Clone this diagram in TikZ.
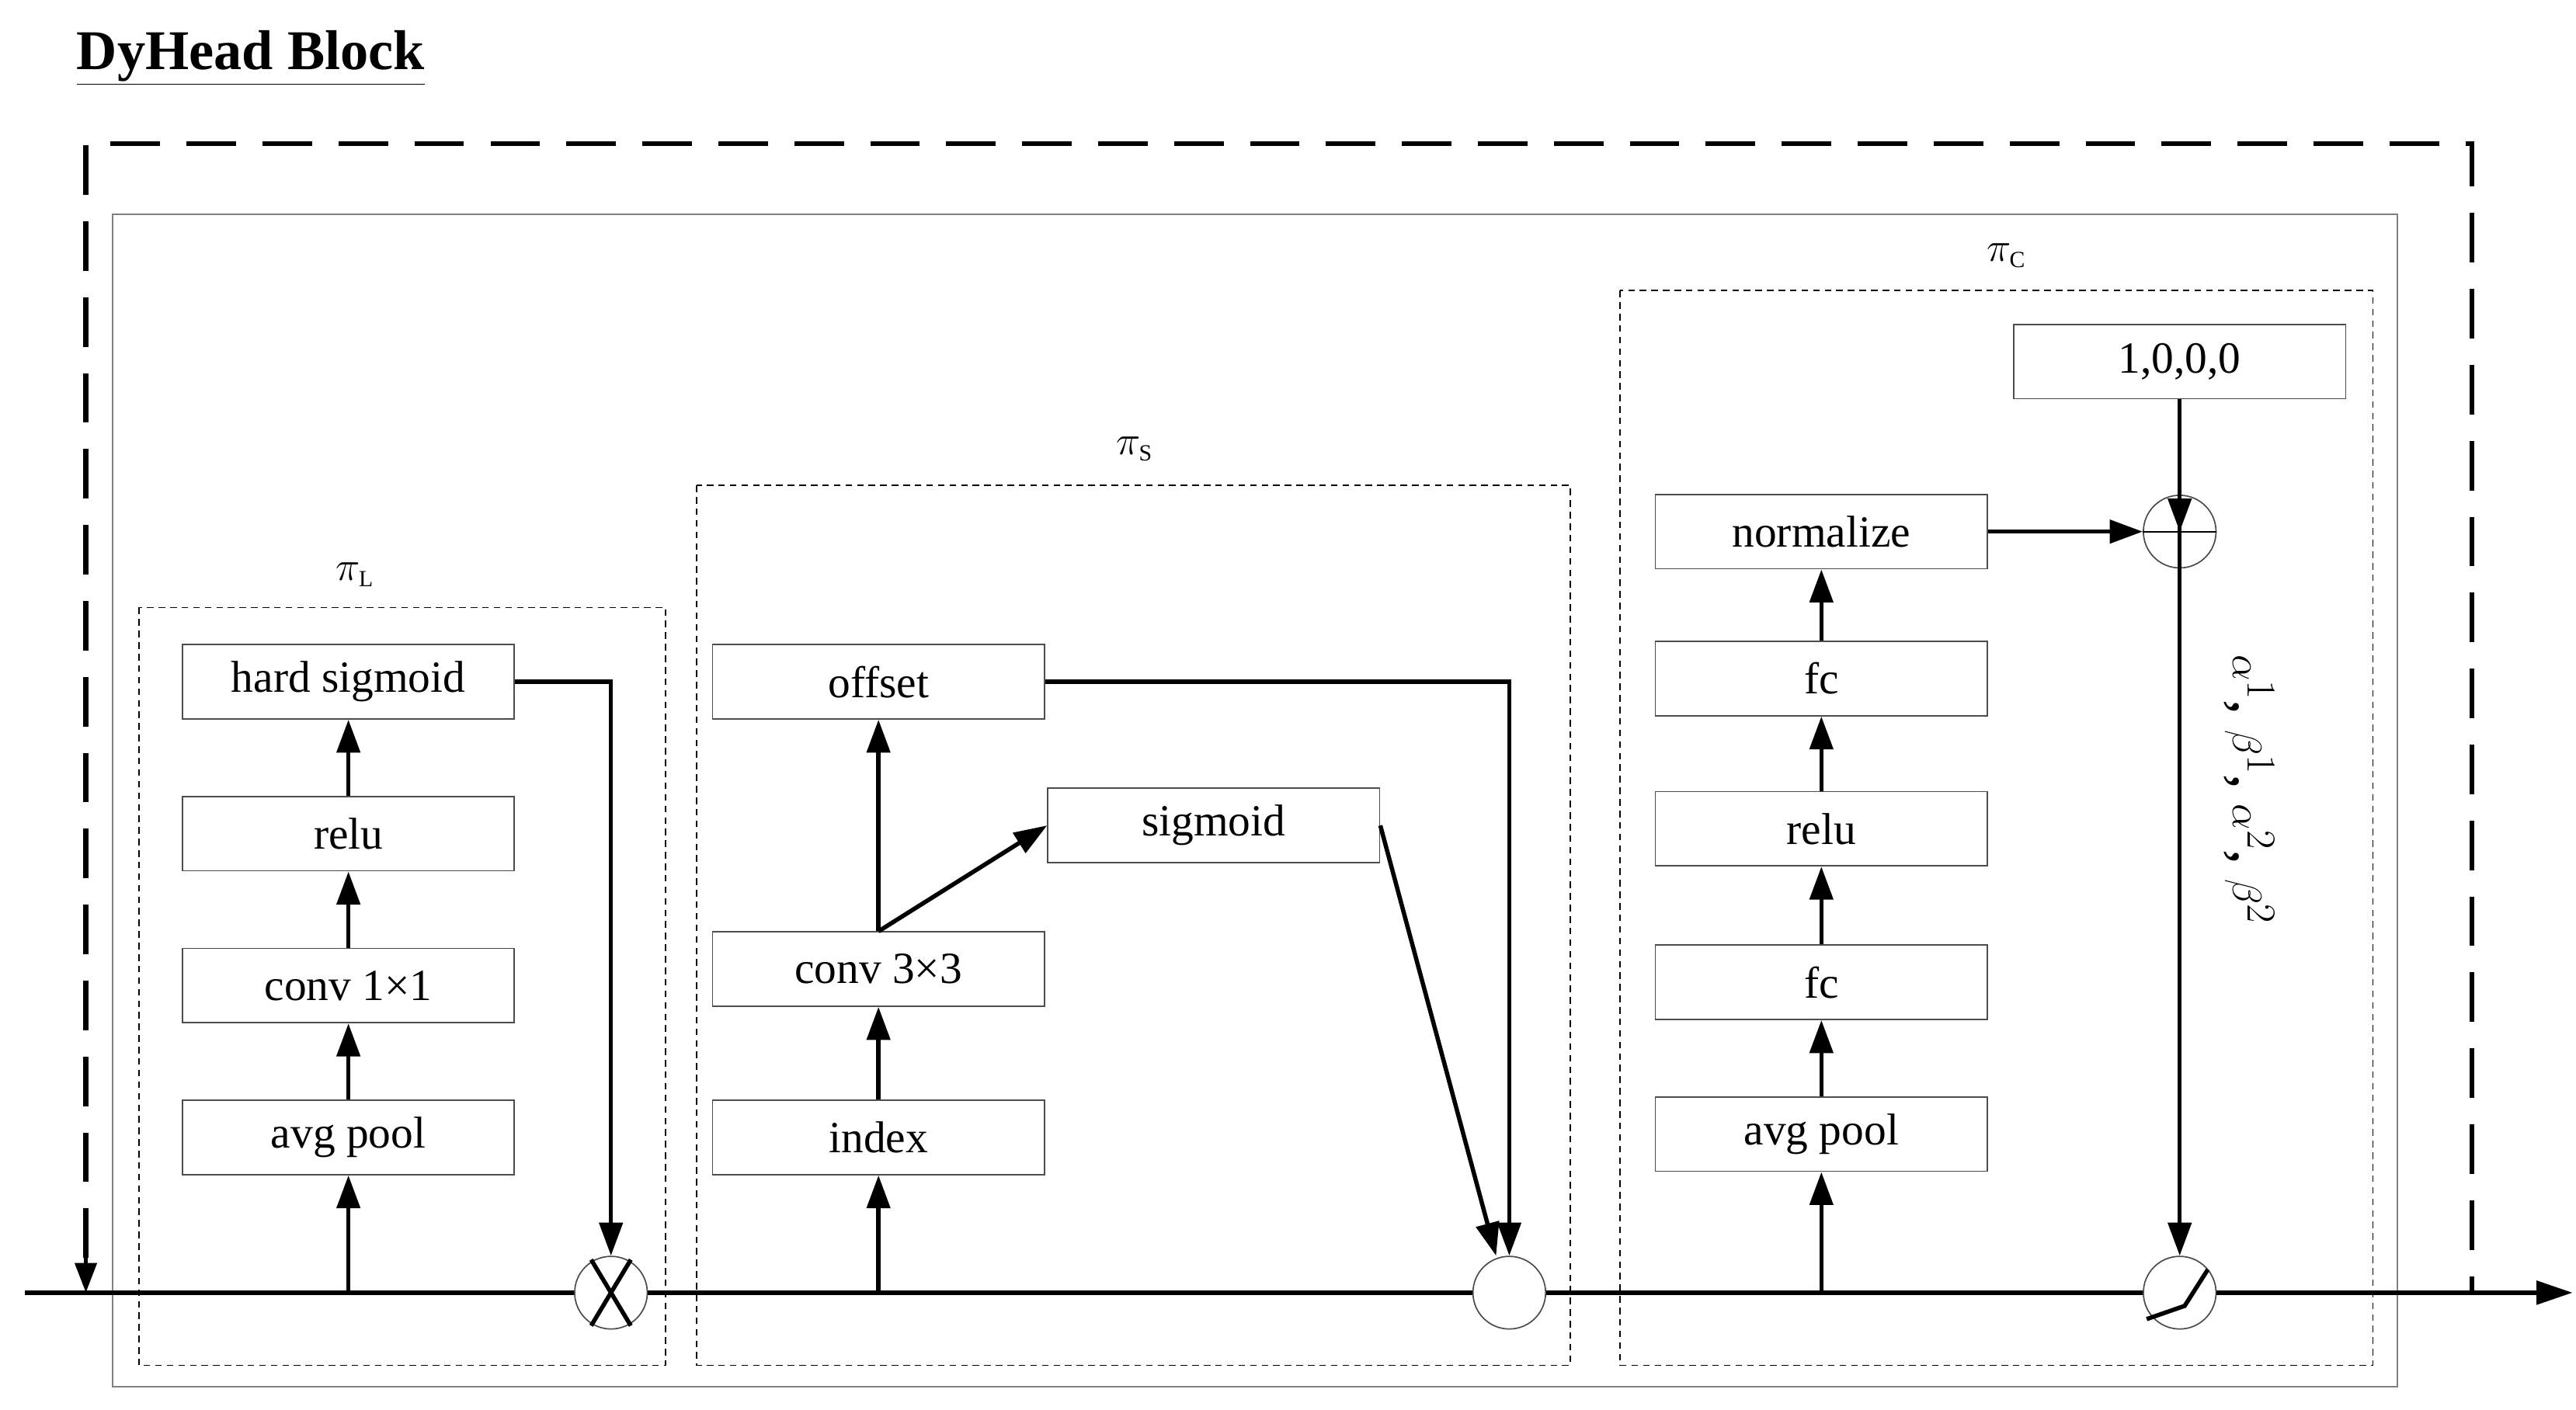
\documentclass[tikz,border=0pt]{standalone}
\usepackage{fontspec}
\setmainfont{Liberation Serif}
\usetikzlibrary{arrows.meta,calc}
\begin{document}
\begin{tikzpicture}[x=1pt,y=-1pt,
  box/.style={draw=black!70,line width=0.8pt,minimum width=201pt,minimum height=45pt,inner sep=0pt,font=\fontsize{27}{27}\selectfont},
  arr/.style={line width=2.6pt,-{Triangle[length=20pt,width=14pt]}},
  grp/.style={draw,dashed,line width=0.9pt,dash pattern=on 4pt off 3pt},
  op/.style={circle,draw=black!70,line width=0.8pt,minimum size=44pt,inner sep=0pt},
  lab/.style={font=\fontsize{28}{28}\selectfont}]
\useasboundingbox (0,0) rectangle (1560,854);
\node[anchor=west,font=\fontsize{34}{34}\selectfont\bfseries] (title) at (43,35) {\underline{DyHead Block}};
\draw[line width=3pt,dash pattern=on 30pt off 16pt] (52,762) -- (52,87) -- (1497,87) -- (1497,783);
\coordinate (dtip) at (52,783);
\draw[line width=2.6pt,-{Triangle[length=18pt,width=13pt]}] (52,762) -- (dtip);
\draw[black!50,line width=1pt] (68,130) rectangle (1452,840);
% groups
\draw[grp] (84,368) rectangle (403,827);
\node[lab] (pl) at (215,348) {$\pi_{\mathrm{\scriptscriptstyle L}}$};
\draw[grp] (422,294) rectangle (951,827);
\node[lab] (ps) at (687,272) {$\pi_{\mathrm{\scriptscriptstyle S}}$};
\draw[grp] (981,176) rectangle (1437,827);
\node[lab] (pc) at (1215,155) {$\pi_{\mathrm{\scriptscriptstyle C}}$};
% main line
\coordinate (start) at (15,783);
\coordinate (end) at (1558,783);
\node[op] (mul) at (370,783) {};
\node[op] (add2) at (914,783) {};
\node[op] (act) at (1320,783) {};
\node[op] (plus) at (1320,322) {};
\draw[line width=3pt] (start) -- (mul.west);
\draw[line width=3pt] (mul.east) -- (add2.west);
\draw[line width=3pt] (add2.east) -- (act.west);
\draw[line width=3pt,-{Triangle[length=22pt,width=14pt]}] (act.east) -- (end);
\draw[line width=2.6pt] ($(mul.center)+(-12,-20)$) -- ($(mul.center)+(12,20)$);
\draw[line width=2.6pt] ($(mul.center)+(12,-20)$) -- ($(mul.center)+(-12,20)$);
\draw[line width=2.6pt] ($(act.center)+(-20,16)$) -- ($(act.center)+(3,8)$) -- ($(act.center)+(17,-14)$);
\draw[line width=1pt] (plus.west) -- (plus.east);
% L
\node[box] (hs) at (211,413) {hard sigmoid};
\node[box] (rl) at (211,505) {relu};
\node[box] (c1) at (211,597) {conv 1×1};
\node[box] (ap1) at (211,689) {avg pool};
\coordinate (l0) at (211,783);
\draw[arr] (l0) -- (ap1);
\draw[arr] (ap1) -- (c1);
\draw[arr] (c1) -- (rl);
\draw[arr] (rl) -- (hs);
\draw[arr] (hs.east) -| (mul.north);
% S
\node[box] (off) at (532,413) {offset};
\node[box] (sg) at (735,500) {sigmoid};
\node[box] (c3) at (532,587) {conv 3×3};
\node[box] (idx) at (532,689) {index};
\coordinate (s0) at (532,783);
\draw[arr] (s0) -- (idx);
\draw[arr] (idx) -- (c3);
\draw[arr] (c3) -- (off);
\draw[arr] (c3.north) -- (sg.west);
\draw[arr] (off.east) -| (add2.north);
\draw[arr] (sg.east) -- ($(add2.north)+(-8,0)$);
% C
\node[box] (nm) at (1103,322) {normalize};
\node[box] (fc2) at (1103,411) {fc};
\node[box] (rl2) at (1103,502) {relu};
\node[box] (fc1) at (1103,595) {fc};
\node[box] (ap2) at (1103,687) {avg pool};
\node[box] (one) at (1320,219) {1,0,0,0};
\coordinate (c0) at (1103,783);
\draw[arr] (c0) -- (ap2);
\draw[arr] (ap2) -- (fc1);
\draw[arr] (fc1) -- (rl2);
\draw[arr] (rl2) -- (fc2);
\draw[arr] (fc2) -- (nm);
\draw[arr] (nm.east) -- (plus.west);
\draw[arr] (one.south) -- (plus.center);
\draw[line width=2.6pt] (plus.north) -- (plus.center);
\draw[arr] (plus.center) -- (act.north);
\node[rotate=-90,anchor=west,font=\fontsize{36}{36}\selectfont] (coef) at (1362,393) {$\alpha^{1}$,\ $\beta^{1}$,\ $\alpha^{2}$,\ $\beta^{2}$};
\end{tikzpicture}
\end{document}
